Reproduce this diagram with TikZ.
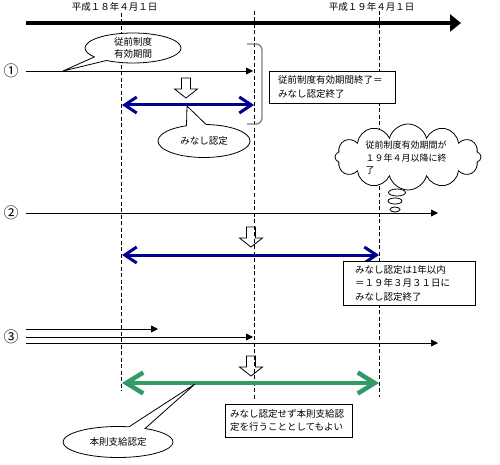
\documentclass[tikz,border=0pt]{standalone}
\usepackage{fontspec}
\newfontfamily\jpfont{Noto Sans CJK JP}
\usetikzlibrary{arrows.meta,shapes.geometric,shapes.symbols,shapes.callouts}
\definecolor{navyblue}{RGB}{0,0,140}
\definecolor{seagreenc}{RGB}{51,153,102}
\begin{document}
\begin{tikzpicture}[x=1pt,y=-1pt,
  font=\jpfont\fontsize{9.5}{13.5}\selectfont,
  thinline/.style={line width=0.9pt},
  thinarrow/.style={thinline,-{Triangle[length=7pt,width=7pt]}},
  dashline/.style={line width=0.8pt,dash pattern=on 4pt off 2.5pt},
  bluearrow/.style={draw=navyblue,line width=3pt,arrows={Straight Barb[length=12pt,width=16pt]-Straight Barb[length=12pt,width=16pt]}},
  greenarrow/.style={draw=seagreenc,line width=4.5pt,arrows={Straight Barb[length=17pt,width=21pt]-Straight Barb[length=17pt,width=21pt]}},
  notebox/.style={draw,fill=white,line width=0.8pt,align=left,inner ysep=3pt},
  bubble/.style={draw,fill=white,line width=0.8pt,ellipse callout,inner sep=0pt},
  bubbletext/.style={align=center,font=\jpfont\fontsize{9.5}{11.5}\selectfont},
  hollowdown/.pic={\draw[line width=0.8pt] (-4.5,0) -- (4.5,0) -- (4.5,11) -- (11.5,11) -- (0,20) -- (-11.5,11) -- (-4.5,11) -- cycle;},
  numlabel/.style={font=\jpfont\fontsize{15}{17}\selectfont},
  thought/.style={ellipse,draw,fill=white,line width=0.8pt,inner sep=0pt}
]
\useasboundingbox (0,0) rectangle (500,465);

% date labels
\node (lab18) at (114.5,7) {平成１８年４月１日};
\node (lab19) at (371.5,7) {平成１９年４月１日};

% dashed guide lines
\coordinate (d1t) at (121,13);   \coordinate (d1b) at (121,391);
\coordinate (d2t) at (254.5,11); \coordinate (d2b) at (254.5,399);
\coordinate (d3t) at (379,11);   \coordinate (d3b) at (379,397);
\draw[dashline] (d1t) -- (d1b);
\draw[dashline] (d2t) -- (d2b);
\draw[dashline] (d3t) -- (d3b);

% main time axis
\coordinate (tl) at (26,23); \coordinate (tr) at (461,23);
\draw[line width=4.5pt,-{Triangle[length=11pt,width=17pt]}] (tl) -- (tr);

% ---- row 1
\node[numlabel] (n1) at (11,71) {①};
\coordinate (r1s) at (26,71); \coordinate (r1e) at (253,71);
\draw[thinarrow] (r1s) -- (r1e);
\coordinate (c1p) at (63,71);
\node[bubble,minimum width=96pt,minimum height=30pt,callout absolute pointer={(c1p)},callout pointer arc=20] (c1) at (133,48) {};
\node[bubbletext] (c1t) at (c1.center) {従前制度\\有効期間};
\pic (h1) at (186,78) {hollowdown};
\coordinate (b1l) at (122,105); \coordinate (b1r) at (254,105);
\draw[bluearrow] (b1l) -- (b1r);
\coordinate (c2p) at (187,106);
\node[bubble,minimum width=92pt,minimum height=33pt,callout absolute pointer={(c2p)},callout pointer arc=25] (c2) at (204,141) {};
\node[bubbletext] (c2t) at (c2.center) {みなし認定};
\coordinate (br1) at (247,44); \coordinate (br2) at (262,44);
\coordinate (br3) at (262,124); \coordinate (br4) at (247,124);
\draw[gray,line width=1.3pt,rounded corners=6pt] (br1) -- (br2) -- (br3) -- (br4);
\node[notebox,text width=108pt,inner xsep=9pt,minimum height=32pt] (box1) at (332,87) {従前制度有効期間終了＝\\みなし認定終了};

% cloud
\node[cloud,cloud puffs=12,cloud ignores aspect,draw,fill=white,line width=0.8pt,minimum width=146pt,minimum height=66pt,inner sep=0pt] (cloud) at (408,157) {};
\node[align=left,font=\jpfont\fontsize{9}{12.5}\selectfont] (cloudt) at (406,158) {従前制度有効期間が\\１９年４月以降に終\\了};
\node[thought,minimum width=17pt,minimum height=7pt] (tb1) at (397,192.5) {};
\node[thought,minimum width=14pt,minimum height=6pt] (tb2) at (395,201) {};
\node[thought,minimum width=10pt,minimum height=5pt] (tb3) at (395,209.5) {};

% ---- row 2
\node[numlabel] (n2) at (11,213) {②};
\coordinate (r2s) at (26,213); \coordinate (r2e) at (438,213);
\draw[thinarrow] (r2s) -- (r2e);
\pic (h2) at (251,227) {hollowdown};
\coordinate (b2l) at (122,255); \coordinate (b2r) at (379,255);
\draw[bluearrow] (b2l) -- (b2r);
\node[notebox,text width=108pt,inner xsep=12pt,minimum height=44pt] (box2) at (409,283) {みなし認定は1年以内\\＝１９年３月３１日に\\みなし認定終了};

% ---- row 3
\node[numlabel] (n3) at (11,337) {③};
\coordinate (r3as) at (26,329); \coordinate (r3ae) at (158,329);
\coordinate (r3bs) at (26,337); \coordinate (r3be) at (253,337);
\coordinate (r3cs) at (26,343); \coordinate (r3ce) at (438,343);
\draw[thinarrow] (r3as) -- (r3ae);
\draw[thinarrow] (r3bs) -- (r3be);
\draw[thinarrow] (r3cs) -- (r3ce);
\pic (h3) at (251,356) {hollowdown};
\coordinate (g1) at (122,383); \coordinate (g2) at (379,383);
\draw[greenarrow] (g1) -- (g2);
\node[notebox,text width=117pt,inner xsep=5pt,minimum height=33pt] (box3) at (288.5,420.5) {みなし認定せず本則支給認\\定を行うこととしてもよい};
\coordinate (c3p) at (195,384);
\node[bubble,minimum width=110pt,minimum height=31pt,callout absolute pointer={(c3p)},callout pointer arc=18] (c3) at (118,442) {};
\node[bubbletext] (c3t) at (c3.center) {本則支給認定};
\end{tikzpicture}
\end{document}
